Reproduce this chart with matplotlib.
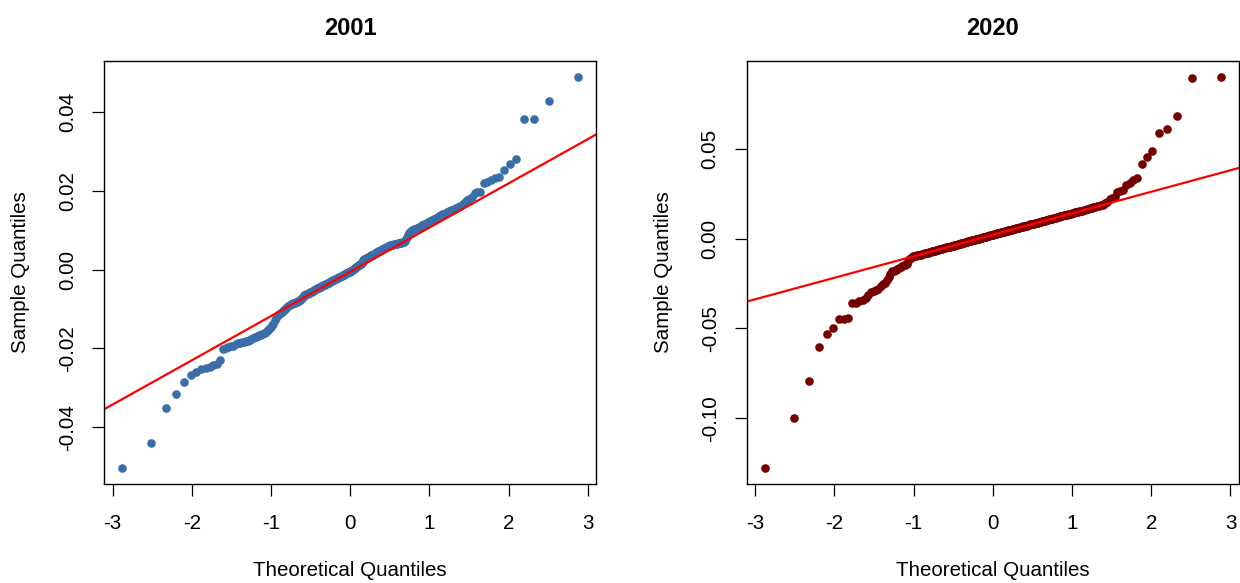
from statistics import NormalDist

import numpy as np
import matplotlib
matplotlib.use("Agg")
import matplotlib.pyplot as plt

plt.rcParams["font.family"] = ["Liberation Sans", "DejaVu Sans"]

# sorted daily sample values (n = 250 each)
returns_2001 = [
    -0.0504, -0.0441, -0.0350, -0.0315, -0.0284, -0.0267, -0.0261, -0.0253, -0.0249, -0.0246,
    -0.0243, -0.0239, -0.0229, -0.0202, -0.0199, -0.0197, -0.0195, -0.0193, -0.0190, -0.0187,
    -0.0185, -0.0184, -0.0183, -0.0181, -0.0180, -0.0178, -0.0176, -0.0174, -0.0172, -0.0170,
    -0.0168, -0.0167, -0.0165, -0.0164, -0.0162, -0.0160, -0.0157, -0.0153, -0.0150, -0.0146,
    -0.0141, -0.0138, -0.0128, -0.0122, -0.0118, -0.0115, -0.0112, -0.0110, -0.0107, -0.0104,
    -0.0102, -0.0100, -0.0097, -0.0095, -0.0093, -0.0090, -0.0088, -0.0087, -0.0086, -0.0085,
    -0.0084, -0.0083, -0.0082, -0.0080, -0.0079, -0.0077, -0.0075, -0.0072, -0.0069, -0.0066,
    -0.0065, -0.0064, -0.0063, -0.0062, -0.0061, -0.0060, -0.0058, -0.0057, -0.0056, -0.0054,
    -0.0053, -0.0052, -0.0051, -0.0050, -0.0048, -0.0047, -0.0046, -0.0045, -0.0044, -0.0042,
    -0.0041, -0.0040, -0.0039, -0.0038, -0.0037, -0.0036, -0.0035, -0.0034, -0.0033, -0.0031,
    -0.0030, -0.0029, -0.0028, -0.0027, -0.0026, -0.0025, -0.0024, -0.0023, -0.0022, -0.0021,
    -0.0020, -0.0019, -0.0018, -0.0017, -0.0016, -0.0015, -0.0014, -0.0013, -0.0012, -0.0010,
    -0.0009, -0.0008, -0.0007, -0.0006, -0.0005, -0.0004, -0.0003, -0.0002, -0.0001, 0.0002,
    0.0003, 0.0005, 0.0006, 0.0008, 0.0009, 0.0011, 0.0012, 0.0014, 0.0015, 0.0017,
    0.0020, 0.0024, 0.0026, 0.0027, 0.0028, 0.0029, 0.0030, 0.0031, 0.0033, 0.0034,
    0.0035, 0.0036, 0.0037, 0.0038, 0.0040, 0.0041, 0.0042, 0.0043, 0.0045, 0.0046,
    0.0047, 0.0048, 0.0049, 0.0050, 0.0051, 0.0053, 0.0054, 0.0055, 0.0056, 0.0058,
    0.0059, 0.0060, 0.0060, 0.0061, 0.0062, 0.0062, 0.0063, 0.0064, 0.0065, 0.0066,
    0.0066, 0.0067, 0.0067, 0.0068, 0.0068, 0.0069, 0.0069, 0.0070, 0.0073, 0.0078,
    0.0083, 0.0088, 0.0092, 0.0095, 0.0098, 0.0100, 0.0101, 0.0102, 0.0103, 0.0104,
    0.0106, 0.0107, 0.0109, 0.0110, 0.0112, 0.0113, 0.0115, 0.0116, 0.0118, 0.0120,
    0.0122, 0.0124, 0.0126, 0.0128, 0.0129, 0.0131, 0.0133, 0.0135, 0.0137, 0.0140,
    0.0142, 0.0144, 0.0147, 0.0149, 0.0151, 0.0152, 0.0154, 0.0156, 0.0158, 0.0160,
    0.0165, 0.0170, 0.0176, 0.0180, 0.0185, 0.0195, 0.0196, 0.0197, 0.0219, 0.0222,
    0.0226, 0.0231, 0.0234, 0.0252, 0.0267, 0.0280, 0.0381, 0.0381, 0.0427, 0.0489,
]

returns_2020 = [
    -0.1278, -0.1000, -0.0791, -0.0605, -0.0531, -0.0500, -0.0448, -0.0448, -0.0444, -0.0359,
    -0.0356, -0.0350, -0.0341, -0.0330, -0.0313, -0.0300, -0.0294, -0.0287, -0.0281, -0.0265,
    -0.0255, -0.0245, -0.0229, -0.0212, -0.0200, -0.0183, -0.0178, -0.0173, -0.0168, -0.0163,
    -0.0158, -0.0153, -0.0149, -0.0146, -0.0139, -0.0125, -0.0116, -0.0110, -0.0105, -0.0100,
    -0.0098, -0.0096, -0.0094, -0.0093, -0.0091, -0.0089, -0.0087, -0.0085, -0.0083, -0.0081,
    -0.0080, -0.0078, -0.0076, -0.0075, -0.0073, -0.0072, -0.0070, -0.0068, -0.0067, -0.0065,
    -0.0064, -0.0062, -0.0060, -0.0059, -0.0058, -0.0056, -0.0055, -0.0053, -0.0052, -0.0050,
    -0.0049, -0.0047, -0.0046, -0.0045, -0.0043, -0.0042, -0.0041, -0.0039, -0.0038, -0.0036,
    -0.0035, -0.0034, -0.0032, -0.0031, -0.0030, -0.0028, -0.0027, -0.0026, -0.0024, -0.0023,
    -0.0022, -0.0020, -0.0019, -0.0018, -0.0016, -0.0015, -0.0014, -0.0013, -0.0011, -0.0010,
    -0.0009, -0.0008, -0.0006, -0.0005, -0.0004, -0.0003, -0.0001, 0.0000, 0.0001, 0.0002,
    0.0004, 0.0005, 0.0006, 0.0007, 0.0008, 0.0010, 0.0011, 0.0012, 0.0013, 0.0014,
    0.0016, 0.0017, 0.0018, 0.0019, 0.0020, 0.0022, 0.0023, 0.0024, 0.0025, 0.0026,
    0.0028, 0.0029, 0.0030, 0.0031, 0.0032, 0.0034, 0.0035, 0.0036, 0.0037, 0.0038,
    0.0040, 0.0041, 0.0042, 0.0043, 0.0045, 0.0046, 0.0047, 0.0048, 0.0050, 0.0051,
    0.0052, 0.0053, 0.0055, 0.0056, 0.0057, 0.0058, 0.0060, 0.0061, 0.0062, 0.0063,
    0.0065, 0.0066, 0.0067, 0.0069, 0.0070, 0.0071, 0.0072, 0.0074, 0.0075, 0.0076,
    0.0078, 0.0079, 0.0080, 0.0082, 0.0083, 0.0084, 0.0086, 0.0087, 0.0088, 0.0090,
    0.0091, 0.0092, 0.0094, 0.0095, 0.0097, 0.0098, 0.0100, 0.0102, 0.0103, 0.0105,
    0.0106, 0.0108, 0.0109, 0.0111, 0.0112, 0.0114, 0.0116, 0.0117, 0.0119, 0.0121,
    0.0123, 0.0124, 0.0126, 0.0128, 0.0130, 0.0131, 0.0133, 0.0135, 0.0137, 0.0139,
    0.0141, 0.0143, 0.0145, 0.0147, 0.0149, 0.0151, 0.0153, 0.0155, 0.0158, 0.0161,
    0.0163, 0.0166, 0.0168, 0.0171, 0.0174, 0.0177, 0.0180, 0.0182, 0.0185, 0.0188,
    0.0195, 0.0205, 0.0219, 0.0226, 0.0233, 0.0261, 0.0264, 0.0267, 0.0300, 0.0310,
    0.0325, 0.0339, 0.0415, 0.0452, 0.0487, 0.0586, 0.0608, 0.0682, 0.0891, 0.0900,
]

titles = ["2001", "2020"]
point_colors = ["#3B6EA8", "#740000"]
x_ticks = [-3, -2, -1, 0, 1, 2, 3]
y_ticks = [[-0.04, -0.02, 0.00, 0.02, 0.04], [-0.10, -0.05, 0.00, 0.05]]


def theoretical_quantiles(n):
    # same plotting positions as R's ppoints() for n > 10
    nd = NormalDist()
    return np.array([nd.inv_cdf((i - 0.5) / n) for i in range(1, n + 1)])


def qq_panel(ax, sample, color, title, yticks):
    y = np.sort(np.asarray(sample))
    x = theoretical_quantiles(len(y))
    ax.plot(x, y, "o", color=color, markersize=6.2, markeredgewidth=0)

    # reference line through the quartiles, like qqline()
    q1, q3 = np.quantile(y, [0.25, 0.75])
    z1, z3 = NormalDist().inv_cdf(0.25), NormalDist().inv_cdf(0.75)
    slope = (q3 - q1) / (z3 - z1)
    intercept = q1 - slope * z1
    ax.axline((0, intercept), slope=slope, color="#FF0000", lw=1.6)

    ax.margins(x=0.04, y=0.04)
    ax.set_xticks(x_ticks)
    ax.set_xticklabels([str(t) for t in x_ticks])
    ax.set_yticks(yticks)
    ax.set_yticklabels([f"{t:.2f}" for t in yticks], rotation=90, va="center")
    ax.tick_params(direction="out", length=8.5, width=0.9, labelsize=14.8)
    ax.tick_params(axis="x", pad=13)
    ax.tick_params(axis="y", pad=11)
    for sp in ax.spines.values():
        sp.set_linewidth(1.0)
    ax.set_title(title, fontsize=17, fontweight="bold", pad=19)
    ax.set_xlabel("Theoretical Quantiles", fontsize=14.8, labelpad=20)
    ax.set_ylabel("Sample Quantiles", fontsize=14.8, labelpad=20)


fig = plt.figure(figsize=(12.4, 5.83), dpi=100)
ax1 = fig.add_axes([0.0839, 0.1698, 0.397, 0.7256])
ax2 = fig.add_axes([0.6022, 0.1698, 0.397, 0.7256])

for ax, data, col, ttl, yt in zip([ax1, ax2], [returns_2001, returns_2020],
                                   point_colors, titles, y_ticks):
    qq_panel(ax, data, col, ttl, yt)

fig.savefig("out.png", dpi=100)
